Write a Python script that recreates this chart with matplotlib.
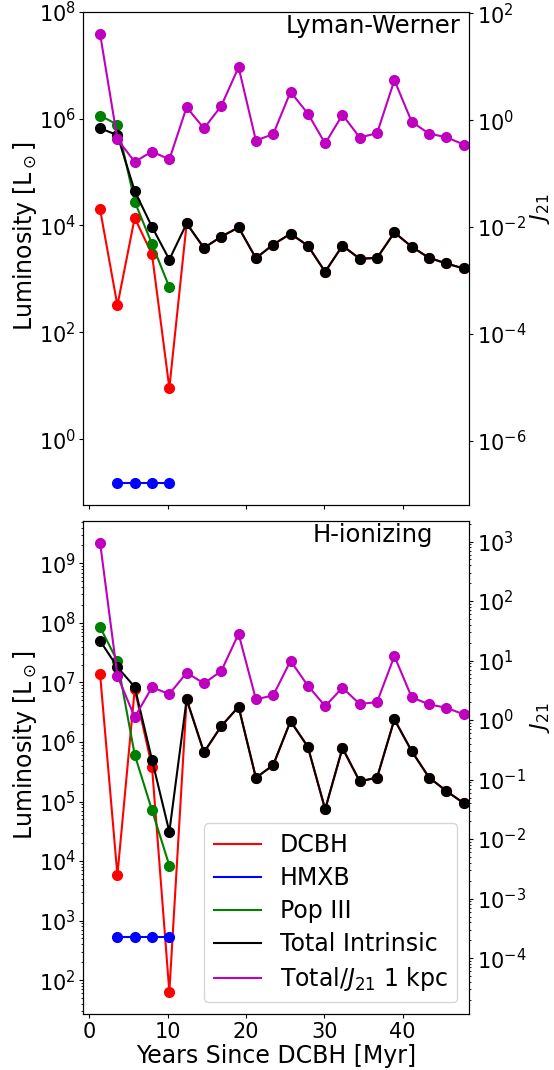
"""
Luminosity and J21 evolution after DCBH formation
"""

import matplotlib
matplotlib.use("Agg")
import matplotlib.pyplot as plt
from matplotlib.lines import Line2D
from matplotlib.ticker import NullFormatter

# snapshot times [Myr]
time_myr = [1.37, 3.58, 5.79, 8.00, 10.21, 12.42, 14.63, 16.84, 19.05, 21.26, 23.47,
            25.68, 27.89, 30.10, 32.31, 34.52, 36.73, 38.94, 41.15, 43.36, 45.57, 47.78]

# Lyman-Werner band [L_sun]
lw_dcbh = [2.0e4, 3.2e2, 1.39e4, 2.87e3, 9.1, 1.09e4, 3.8e3, 6.2e3, 9.2e3, 2.45e3, 4.4e3,
           7.0e3, 4.2e3, 1.36e3, 4.2e3, 2.38e3, 2.48e3, 7.4e3, 4.0e3, 2.48e3, 1.95e3, 1.57e3]
lw_hmxb = [0.15, 0.15, 0.15, 0.15]
lw_pop3 = [1.14e6, 7.7e5, 2.8e4, 4.5e3, 7.0e2]
lw_total = [6.6e5, 4.9e5, 4.4e4, 9.4e3, 2.3e3, 1.09e4, 3.8e3, 6.2e3, 9.2e3, 2.45e3, 4.4e3,
            7.0e3, 4.2e3, 1.36e3, 4.2e3, 2.38e3, 2.48e3, 7.4e3, 4.0e3, 2.48e3, 1.95e3, 1.57e3]
lw_j21 = [41.0, 0.44, 0.166, 0.259, 0.184, 1.75, 0.70, 1.85, 9.8, 0.416, 0.547,
          3.38, 1.33, 0.366, 1.26, 0.473, 0.571, 5.6, 0.93, 0.56, 0.48, 0.35]

# H-ionizing band [L_sun]
hi_dcbh = [1.38e7, 5.8e3, 7.7e6, 3.8e5, 63.0, 5.2e6, 6.7e5, 1.85e6, 3.9e6, 2.5e5, 4.1e5,
           2.24e6, 8.3e5, 7.4e4, 7.9e5, 2.17e5, 2.53e5, 2.39e6, 7.0e5, 2.53e5, 1.5e5, 9.4e4]
hi_hmxb = [530.0, 530.0, 530.0, 530.0]
hi_pop3 = [8.5e7, 2.28e7, 6.1e5, 7.1e4, 8.4e3]
hi_total = [5.0e7, 1.81e7, 8.4e6, 5.0e5, 3.1e4, 5.2e6, 6.7e5, 1.85e6, 3.9e6, 2.5e5, 4.1e5,
            2.24e6, 8.3e5, 7.4e4, 7.9e5, 2.17e5, 2.53e5, 2.39e6, 7.0e5, 2.53e5, 1.5e5, 9.4e4]
hi_j21 = [955.0, 5.56, 1.12, 3.55, 2.74, 6.24, 4.14, 6.67, 28.2, 2.23, 2.6,
          9.9, 3.78, 1.72, 3.49, 1.86, 2.01, 11.9, 2.41, 1.84, 1.61, 1.25]

panels = [
    ("Lyman-Werner", lw_dcbh, lw_hmxb, lw_pop3, lw_total, lw_j21,
     (10**-1.228, 1e8), (10**-7.2, 10**2.03)),
    ("H-ionizing", hi_dcbh, hi_hmxb, hi_pop3, hi_total, hi_j21,
     (10**1.43, 10**9.716), (10**-4.94, 10**3.35)),
]

FS = 17
TICK_FS = 15


def style_ticks(axis):
    axis.tick_params(which='major', labelsize=TICK_FS, length=3, pad=2.5)
    axis.tick_params(which='minor', length=1.5)
    axis.yaxis.set_minor_formatter(NullFormatter())


fig, axes = plt.subplots(2, 1, sharex=True, figsize=(5.54, 10.7), dpi=100)
fig.subplots_adjust(left=0.1504, right=0.8471, top=0.9891, bottom=0.0523, hspace=0.032)

for ax, (name, dcbh, hmxb, pop3, total, j21, ylim_l, ylim_r) in zip(axes, panels):
    ax.plot(time_myr, dcbh, 'o-', color='r', ms=7, lw=1.5)
    ax.plot(time_myr[1:5], hmxb, 'o-', color='b', ms=7, lw=1.5)
    ax.plot(time_myr[:5], pop3, 'o-', color='g', ms=7, lw=1.5)
    ax.plot(time_myr, total, 'o-', color='k', ms=7, lw=1.5)
    ax.set_yscale('log')
    ax.set_ylim(*ylim_l)
    ax.set_ylabel(r"Luminosity [L$_\odot$]", fontsize=FS)
    ax.yaxis.set_label_coords(-0.115, 0.545)
    style_ticks(ax)
    ax.text(0.75, 0.971, name, transform=ax.transAxes, ha='center', va='center',
            fontsize=17.5)

    ax2 = ax.twinx()
    ax2.plot(time_myr, j21, 'o-', color='m', ms=7, lw=1.5)
    ax2.set_yscale('log')
    ax2.set_ylim(*ylim_r)
    ax2.set_ylabel(r"$J_{21}$", fontsize=16)
    ax2.yaxis.set_label_coords(1.152, 0.6)
    style_ticks(ax2)

axes[1].set_xlim(-0.77, 48.5)
axes[1].set_xlabel("Years Since DCBH [Myr]", fontsize=FS, labelpad=2)

handles = [Line2D([], [], color=c) for c in ['r', 'b', 'g', 'k', 'm']]
labels = ["DCBH", "HMXB", "Pop III", "Total Intrinsic", r"Total/$J_{21}$ 1 kpc"]
leg = axes[1].legend(handles, labels, loc='lower right', fontsize=FS, labelspacing=0.38)
# keep the legend above the J21 curve of the twin axis
leg.remove()
fig.axes[-1].add_artist(leg)

fig.savefig("out.png", dpi=100)
